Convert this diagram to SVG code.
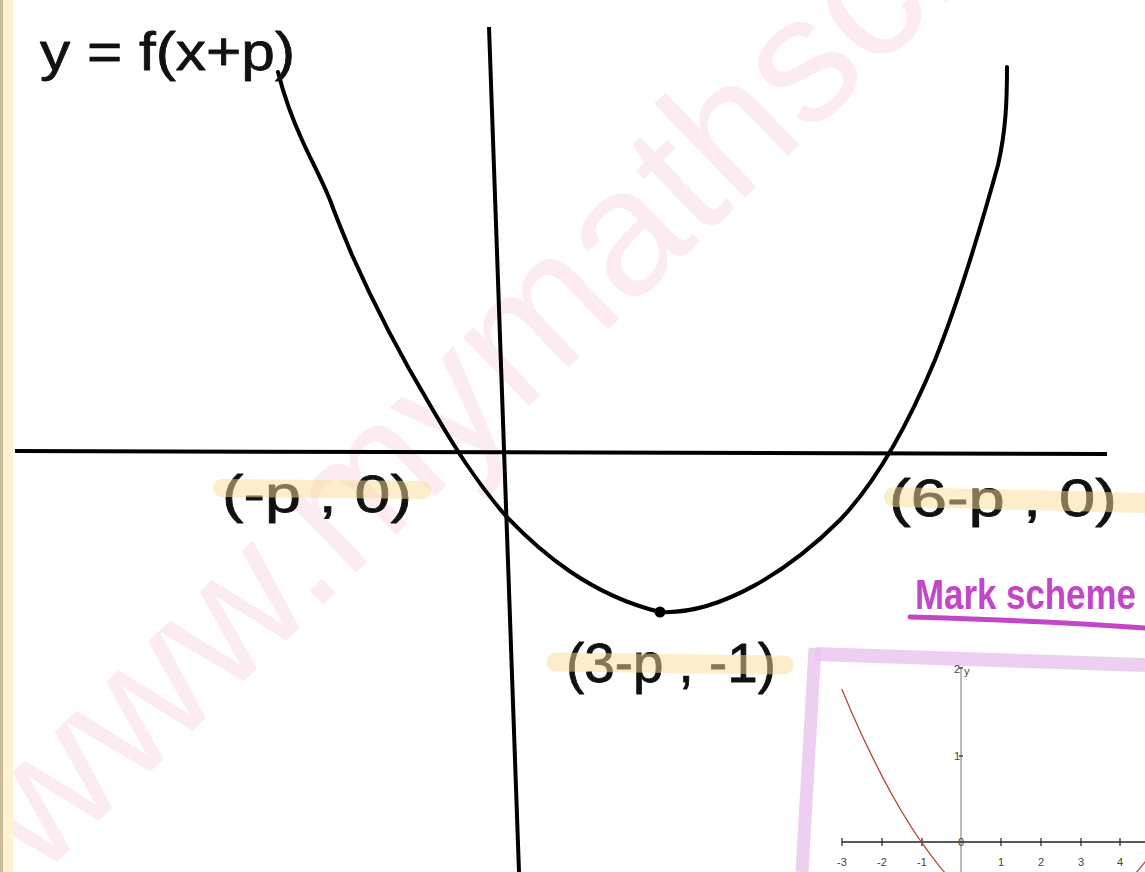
<svg xmlns="http://www.w3.org/2000/svg" width="1145" height="872" viewBox="0 0 1145 872">
<style>
.hand{font-family:"Liberation Sans","DejaVu Sans",sans-serif;fill:#111;stroke:#111;stroke-width:0.8;stroke-linejoin:round}
.hl{fill:none;stroke:#f9dc98;stroke-opacity:0.5;stroke-linecap:round}
.ink{fill:none;stroke:#000;stroke-width:4;stroke-linecap:round;stroke-linejoin:round}
.tick{font-family:"Liberation Sans Narrow","Liberation Sans",sans-serif;font-size:11px;fill:#444}
</style>
<rect width="1145" height="872" fill="#fff"/>
<g id="watermark">
<text x="38" y="880" transform="rotate(-44 38 880)" font-family="Liberation Sans, sans-serif" font-size="180" fill="#fdebf4">www.mymathscloud.com</text>
</g>
<g id="margin">
<rect x="0" y="0" width="3" height="872" fill="#c9bd9e"/>
<rect x="3" y="0" width="10" height="872" fill="#fff2d4"/>
</g>
<g id="axes">
<line x1="15" y1="451" x2="1107" y2="454" stroke="#000" stroke-width="4"/>
<line x1="489" y1="27" x2="519" y2="872" stroke="#000" stroke-width="4"/>
</g>
<g id="curve">
<path class="ink" d="M278,72 C285,100 292,118 302,140 C312,162 322,180 330,200 C338,222 345,238 352,255 C372,300 400,355 430,405 C455,448 475,480 505,515 C540,552 590,595 660,612 C720,615 790,570 840,520 C880,478 910,420 935,360 C955,310 980,230 998,165 C1006,130 1007,100 1007,67"/>
<circle cx="660" cy="612" r="5.5" fill="#000"/>
</g>
<g id="title">
<text class="hand" x="40" y="70" font-size="54" textLength="255" lengthAdjust="spacingAndGlyphs">y = f(x+p)</text>
</g>
<g id="label-root1">
<text class="hand" x="222" y="512" font-size="52" textLength="190" lengthAdjust="spacingAndGlyphs">(-p , 0)</text>
<line class="hl" x1="222" y1="488" x2="422" y2="490" stroke-width="18"/>
</g>
<g id="label-root2">
<text class="hand" x="889" y="516" font-size="52" textLength="228" lengthAdjust="spacingAndGlyphs">(6-p , 0)</text>
<line class="hl" x1="894" y1="497" x2="1150" y2="503" stroke-width="20"/>
</g>
<g id="label-min">
<text class="hand" x="566" y="682" font-size="56" textLength="210" lengthAdjust="spacingAndGlyphs">(3-p , -1)</text>
<line class="hl" x1="556" y1="662" x2="784" y2="665" stroke-width="19"/>
</g>
<g id="markscheme-title">
<text transform="translate(915,609) scale(0.83,1)" font-family="Liberation Sans, sans-serif" font-size="42" font-weight="bold" fill="#c446c8">Mark scheme</text>
<path d="M910,617 C980,619 1060,622 1145,628" fill="none" stroke="#c446c8" stroke-width="5" stroke-linecap="round"/>
</g>
<g id="markscheme-image">
<line x1="815" y1="654" x2="1145" y2="665" stroke="#e9c4ee" stroke-opacity="0.8" stroke-width="14"/>
<line x1="815" y1="648" x2="802" y2="872" stroke="#e9c4ee" stroke-opacity="0.8" stroke-width="13"/>
<line x1="961" y1="667" x2="961" y2="872" stroke="#777" stroke-width="1"/>
<line x1="842" y1="842" x2="1145" y2="842" stroke="#222" stroke-width="1.5"/>
<g stroke="#222" stroke-width="1.2">
<line x1="842" y1="838" x2="842" y2="846"/><line x1="882" y1="838" x2="882" y2="846"/><line x1="922" y1="838" x2="922" y2="846"/><line x1="1001" y1="838" x2="1001" y2="846"/><line x1="1041" y1="838" x2="1041" y2="846"/><line x1="1081" y1="838" x2="1081" y2="846"/><line x1="1120" y1="838" x2="1120" y2="846"/>
<line x1="959" y1="756" x2="963" y2="756"/><line x1="959" y1="668" x2="963" y2="668"/>
</g>
<g class="tick" text-anchor="middle">
<text x="842" y="866">-3</text><text x="882" y="866">-2</text><text x="922" y="866">-1</text><text x="1001" y="866">1</text><text x="1041" y="866">2</text><text x="1081" y="866">3</text><text x="1120" y="866">4</text>
<text x="957" y="760">1</text><text x="957" y="673">2</text><text x="961" y="846">0</text>
</g>
<text class="tick" x="964" y="675">y</text>
<polyline fill="none" stroke="#b0493e" stroke-width="1.3" points="841.8,689.1 851.7,712.4 861.6,734.5 871.6,755.4 881.5,775.1 891.4,793.6 901.4,811 911.3,827.1 921.3,842 931.2,855.7 941.1,868.3 945.1,873"/>
<polyline fill="none" stroke="#b0493e" stroke-width="1.3" points="1135.9,873 1139.9,868.3 1143.9,863.4 1146,860.9"/>
</g>
</svg>
